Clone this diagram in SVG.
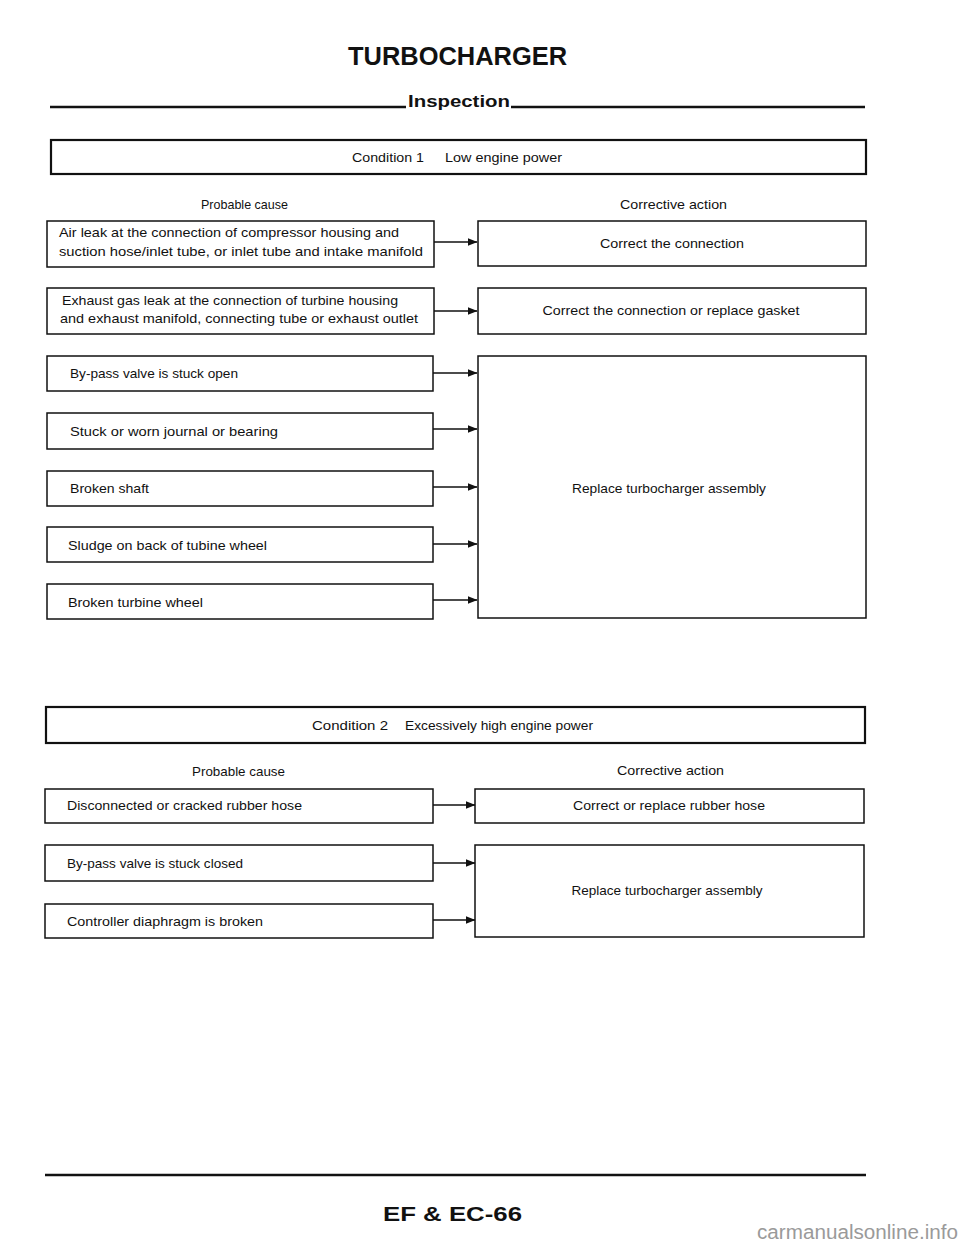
<svg xmlns="http://www.w3.org/2000/svg" width="960" height="1247" viewBox="0 0 960 1247">
<style>
.bg{fill:#fff}
.box{fill:#fff;stroke:#111;stroke-width:1.5}
.cond{fill:#fff;stroke:#111;stroke-width:2.2}
.rule{stroke:#111;stroke-width:2.6}
.conn{stroke:#111;stroke-width:1.5;fill:none}
text{font-family:"Liberation Sans",Arial,sans-serif;fill:#111}
.t{font-size:13.5px}
.h{font-size:13.5px}
.c{text-anchor:middle}
.title{font-size:26px;font-weight:bold}
.sub{font-size:17px;font-weight:bold}
.foot{font-size:21px;font-weight:bold}
.wm{font-size:20px;fill:#9a9a9a}
</style>
<defs>
<marker id="ah" markerWidth="10" markerHeight="8" refX="9.5" refY="4" orient="auto" markerUnits="userSpaceOnUse">
<path d="M0,0 L10,4 L0,8 Z" fill="#111"/>
</marker>
</defs>
<rect class="bg" x="0" y="0" width="960" height="1247"/>

<g id="header">
<text class="title" x="348" y="65" textLength="219" lengthAdjust="spacingAndGlyphs">TURBOCHARGER</text>
<line class="rule" x1="50" y1="107" x2="406" y2="107"/>
<text class="sub" x="408" y="107" textLength="102" lengthAdjust="spacingAndGlyphs">Inspection</text>
<line class="rule" x1="511" y1="107" x2="865" y2="107"/>
</g>

<g id="condition1">
<rect class="cond" x="51" y="140" width="815" height="34"/>
<text class="t" x="352" y="162" textLength="72" lengthAdjust="spacingAndGlyphs">Condition 1</text>
<text class="t" x="445" y="162" textLength="117" lengthAdjust="spacingAndGlyphs">Low engine power</text>
</g>
<text class="h" x="201" y="209" textLength="87" lengthAdjust="spacingAndGlyphs">Probable cause</text>
<text class="h" x="620" y="209" textLength="107" lengthAdjust="spacingAndGlyphs">Corrective action</text>

<g id="c1-cause1">
<rect class="box" x="47" y="221" width="387" height="46"/>
<text class="t" x="59" y="237" textLength="340" lengthAdjust="spacingAndGlyphs">Air leak at the connection of compressor housing and</text>
<text class="t" x="59" y="256" textLength="364" lengthAdjust="spacingAndGlyphs">suction hose/inlet tube, or inlet tube and intake manifold</text>
</g>
<g id="c1-cause2">
<rect class="box" x="47" y="288" width="387" height="46"/>
<text class="t" x="62" y="305" textLength="336" lengthAdjust="spacingAndGlyphs">Exhaust gas leak at the connection of turbine housing</text>
<text class="t" x="60" y="323" textLength="358" lengthAdjust="spacingAndGlyphs">and exhaust manifold, connecting tube or exhaust outlet</text>
</g>
<g id="c1-cause3">
<rect class="box" x="47" y="356" width="386" height="35"/>
<text class="t" x="70" y="378" textLength="168" lengthAdjust="spacingAndGlyphs">By-pass valve is stuck open</text>
</g>
<g id="c1-cause4">
<rect class="box" x="47" y="413" width="386" height="36"/>
<text class="t" x="70" y="436" textLength="208" lengthAdjust="spacingAndGlyphs">Stuck or worn journal or bearing</text>
</g>
<g id="c1-cause5">
<rect class="box" x="47" y="471" width="386" height="35"/>
<text class="t" x="70" y="493" textLength="79" lengthAdjust="spacingAndGlyphs">Broken shaft</text>
</g>
<g id="c1-cause6">
<rect class="box" x="47" y="527" width="386" height="35"/>
<text class="t" x="68" y="550" textLength="199" lengthAdjust="spacingAndGlyphs">Sludge on back of tubine wheel</text>
</g>
<g id="c1-cause7">
<rect class="box" x="47" y="584" width="386" height="35"/>
<text class="t" x="68" y="607" textLength="135" lengthAdjust="spacingAndGlyphs">Broken turbine wheel</text>
</g>

<g id="c1-action1">
<rect class="box" x="478" y="221" width="388" height="45"/>
<text class="t c" x="672" y="248" textLength="144" lengthAdjust="spacingAndGlyphs">Correct the connection</text>
</g>
<g id="c1-action2">
<rect class="box" x="478" y="288" width="388" height="46"/>
<text class="t c" x="671" y="315" textLength="257" lengthAdjust="spacingAndGlyphs">Correct the connection or replace gasket</text>
</g>
<g id="c1-action3">
<rect class="box" x="478" y="356" width="388" height="262"/>
<text class="t c" x="669" y="493" textLength="194" lengthAdjust="spacingAndGlyphs">Replace turbocharger assembly</text>
</g>

<g id="condition2">
<rect class="cond" x="46" y="707" width="819" height="36"/>
<text class="t" x="312" y="730" textLength="76" lengthAdjust="spacingAndGlyphs">Condition 2</text>
<text class="t" x="405" y="730" textLength="188" lengthAdjust="spacingAndGlyphs">Excessively high engine power</text>
</g>
<text class="h" x="192" y="776" textLength="93" lengthAdjust="spacingAndGlyphs">Probable cause</text>
<text class="h" x="617" y="775" textLength="107" lengthAdjust="spacingAndGlyphs">Corrective action</text>

<g id="c2-cause1">
<rect class="box" x="45" y="789" width="388" height="34"/>
<text class="t" x="67" y="810" textLength="235" lengthAdjust="spacingAndGlyphs">Disconnected or cracked rubber hose</text>
</g>
<g id="c2-cause2">
<rect class="box" x="45" y="845" width="388" height="36"/>
<text class="t" x="67" y="868" textLength="176" lengthAdjust="spacingAndGlyphs">By-pass valve is stuck closed</text>
</g>
<g id="c2-cause3">
<rect class="box" x="45" y="904" width="388" height="34"/>
<text class="t" x="67" y="926" textLength="196" lengthAdjust="spacingAndGlyphs">Controller diaphragm is broken</text>
</g>
<g id="c2-action1">
<rect class="box" x="475" y="789" width="389" height="34"/>
<text class="t c" x="669" y="810" textLength="192" lengthAdjust="spacingAndGlyphs">Correct or replace rubber hose</text>
</g>
<g id="c2-action2">
<rect class="box" x="475" y="845" width="389" height="92"/>
<text class="t c" x="667" y="895" textLength="191" lengthAdjust="spacingAndGlyphs">Replace turbocharger assembly</text>
</g>

<g id="connectors">
<line class="conn" x1="434" y1="242" x2="477" y2="242" marker-end="url(#ah)"/>
<line class="conn" x1="434" y1="311" x2="477" y2="311" marker-end="url(#ah)"/>
<line class="conn" x1="433" y1="373" x2="477" y2="373" marker-end="url(#ah)"/>
<line class="conn" x1="433" y1="429" x2="477" y2="429" marker-end="url(#ah)"/>
<line class="conn" x1="433" y1="487" x2="477" y2="487" marker-end="url(#ah)"/>
<line class="conn" x1="433" y1="544" x2="477" y2="544" marker-end="url(#ah)"/>
<line class="conn" x1="433" y1="600" x2="477" y2="600" marker-end="url(#ah)"/>
<line class="conn" x1="433" y1="805" x2="475" y2="805" marker-end="url(#ah)"/>
<line class="conn" x1="433" y1="863" x2="475" y2="863" marker-end="url(#ah)"/>
<line class="conn" x1="433" y1="920" x2="475" y2="920" marker-end="url(#ah)"/>
</g>

<g id="footer">
<line class="rule" x1="45" y1="1175" x2="866" y2="1175"/>
<text class="foot" x="383" y="1221" textLength="139" lengthAdjust="spacingAndGlyphs">EF &amp; EC-66</text>
<text class="wm" x="757" y="1239" textLength="201" lengthAdjust="spacingAndGlyphs">carmanualsonline.info</text>
</g>
</svg>
